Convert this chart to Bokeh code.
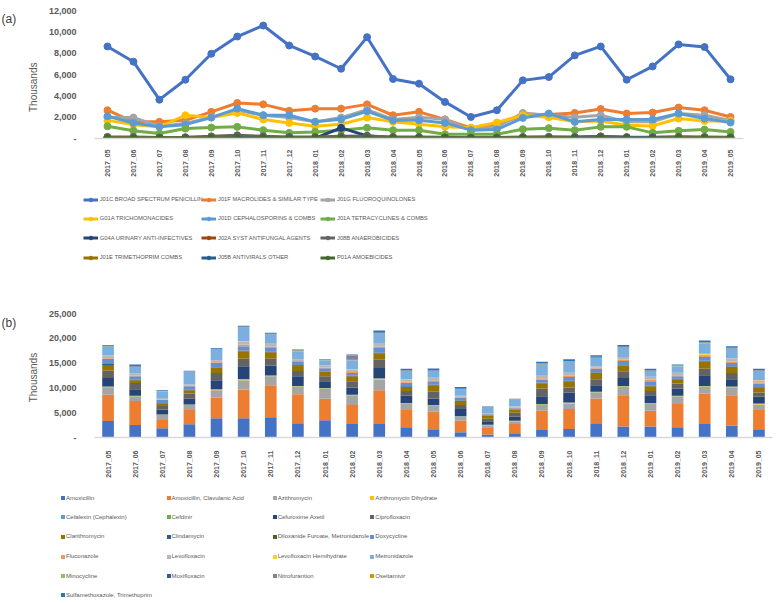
import math
from bokeh.plotting import figure
from bokeh.layouts import column, row
from bokeh.models import (FactorRange, Range1d, FixedTicker, NumeralTickFormatter,
                          Legend, LegendItem, Label, ColumnDataSource)
from bokeh.embed import file_html
from bokeh.resources import INLINE

months = ["2017_05", "2017_06", "2017_07", "2017_08", "2017_09", "2017_10", "2017_11",
          "2017_12", "2018_01", "2018_02", "2018_03", "2018_04", "2018_05", "2018_06",
          "2018_07", "2018_08", "2018_09", "2018_10", "2018_11", "2018_12", "2019_01",
          "2019_02", "2019_03", "2019_04", "2019_05"]

# ---------------- (a) line chart, thousands ----------------
top_names = ["J01C BROAD SPECTRUM PENICILLIN", "J01F MACROLIDES & SIMILAR TYPE",
             "J01G FLUOROQUINOLONES", "G01A TRICHOMONACIDES", "J01D CEPHALOSPORINS & COMBS",
             "J01A TETRACYCLINES & COMBS", "G04A URINARY ANTI-INFECTIVES",
             "J02A SYST ANTIFUNGAL AGENTS", "J08B ANAEROBICIDES", "J01E TRIMETHOPRIM COMBS",
             "J05B ANTIVIRALS OTHER", "P01A AMOEBICIDES"]
top_colors = ["#4472C4", "#ED7D31", "#A5A5A5", "#FFC000", "#5B9BD5", "#70AD47",
              "#264478", "#9E480E", "#636363", "#997300", "#255E91", "#43682B"]

J01C = [8630, 7200, 3640, 5510, 7940, 9560, 10590, 8720, 7690, 6540, 9500, 5580, 5140,
        3430, 2020, 2650, 5450, 5760, 7790, 8630, 5510, 6760, 8820, 8570, 5550]
J01F = [2650, 1560, 1560, 1700, 2500, 3330, 3200, 2600, 2800, 2800, 3200, 2180, 2500,
        1780, 1000, 1250, 2180, 2240, 2400, 2770, 2340, 2430, 2900, 2650, 2020]
J01G = [2000, 1960, 1150, 1400, 2000, 2650, 2180, 1960, 1560, 1960, 2700, 1780, 2000,
        1800, 780, 1100, 2400, 2180, 2000, 2180, 1560, 1560, 2340, 2180, 1700]
G01A = [1700, 1300, 1100, 2180, 1960, 2400, 1780, 1460, 1150, 1340, 1960, 1560, 1340,
        1100, 1000, 1500, 2180, 2000, 1560, 1650, 1250, 1180, 1870, 1650, 1650]
J01D = [2090, 1460, 1100, 1300, 1960, 2800, 2180, 2180, 1560, 1800, 2550, 1700, 1700,
        1460, 780, 840, 1930, 2340, 1560, 1780, 1780, 1780, 2340, 1870, 1500]
J01A = [1150, 720, 470, 930, 1030, 1090, 780, 530, 620, 780, 1000, 780, 780,
        400, 400, 400, 870, 970, 780, 1090, 1090, 530, 720, 840, 620]
G04A = [40, 30, 30, 30, 40, 40, 40, 30, 30, 1000, 250, 40, 40,
        30, 30, 30, 40, 40, 40, 40, 30, 30, 40, 40, 30]
J02A = [100, 80, 60, 70, 90, 120, 110, 90, 80, 150, 130, 90, 90,
        70, 50, 60, 90, 100, 110, 200, 90, 90, 110, 100, 80]
J08B = [150, 130, 100, 120, 200, 300, 200, 150, 130, 200, 230, 150, 140,
        110, 80, 100, 150, 160, 150, 180, 130, 120, 160, 150, 120]
J01E = [60, 50, 40, 50, 60, 70, 60, 50, 50, 60, 70, 50, 50,
        40, 30, 40, 50, 60, 60, 60, 50, 50, 60, 60, 50]
J05B = [30, 30, 20, 30, 30, 40, 40, 30, 30, 30, 40, 30, 30,
        20, 20, 20, 30, 30, 40, 50, 40, 40, 30, 30, 30]
P01A = [5, 5, 4, 5, 5, 6, 5, 5, 5, 5, 6, 5, 5,
        4, 3, 4, 5, 5, 5, 6, 5, 5, 5, 5, 5]
top_values = [J01C, J01F, J01G, G01A, J01D, J01A, G04A, J02A, J08B, J01E, J05B, P01A]
top_ticks = [0, 2000, 4000, 6000, 8000, 10000, 12000]

# ---------------- (b) stacked bars, thousands ----------------
bar_names = ["Amoxicillin", "Amoxicillin, Clavulanic Acid", "Azithromycin",
             "Azithromycin Dihydrate", "Cefalexin (Cephalexin)", "Cefdinir",
             "Cefuroxime Axetil", "Ciprofloxacin", "Clarithromycin", "Clindamycin",
             "Diloxanide Furoate, Metronidazole", "Doxycycline", "Fluconazole",
             "Levofloxacin", "Levofloxacin Hemihydrate", "Metronidazole", "Minocycline",
             "Moxifloxacin", "Nitrofurantion", "Oseltamivir",
             "Sulfamethoxazole, Trimethoprim"]
bar_colors = ["#4472C4", "#ED7D31", "#A5A5A5", "#FFC000", "#5B9BD5", "#70AD47",
              "#264478", "#636363", "#997300", "#255E91", "#43682B", "#698ED0",
              "#F1975A", "#B7B7B7", "#FFCD33", "#7CAFDD", "#8CC168", "#335AA1",
              "#848484", "#CC9A00", "#2E75B6"]

amoxicillin = [3330, 2530, 1870, 2670, 3870, 3870, 4070, 2870, 3470, 2740, 2740, 2070, 1670,
               1070, 600, 870, 1530, 1730, 2870, 2200, 2200, 2070, 2740, 2400, 1670]
amox_clav = [5270, 4810, 1660, 2870, 4130, 5800, 6470, 5870, 4330, 3800, 6800, 3470, 3530,
             2330, 1470, 1870, 3870, 4010, 5000, 6340, 3200, 4670, 6130, 6140, 3870]
azithromycin = [1400, 860, 1010, 1000, 1540, 1870, 1660, 1460, 2000, 1860, 2130, 1200, 1140,
                800, 400, 530, 1140, 1130, 1130, 1660, 1340, 1460, 1330, 1530, 1130]
azithro_dihydrate = [100, 80, 40, 50, 80, 90, 120, 80, 80, 80, 120, 80, 80,
                     40, 40, 40, 80, 80, 80, 80, 80, 80, 80, 80, 80]
cefalexin = [60, 40, 30, 30, 40, 50, 60, 40, 40, 40, 60, 40, 40,
             20, 20, 20, 40, 40, 40, 40, 40, 40, 40, 40, 40]
cefdinir = [110, 80, 40, 40, 80, 90, 150, 80, 80, 80, 120, 80, 80,
            40, 40, 40, 80, 80, 80, 80, 80, 80, 80, 80, 80]
cefuroxime = [1730, 1340, 1020, 1140, 1800, 2570, 2010, 1940, 1340, 1470, 2030, 1460, 1330,
              1440, 700, 830, 1600, 1930, 1340, 1600, 1600, 1470, 2140, 1470, 1330]
ciprofloxacin = [1470, 1260, 670, 1070, 1460, 1530, 1330, 1060, 1000, 1270, 1670, 1000, 1330,
                 800, 530, 800, 1530, 1070, 1200, 1340, 860, 1000, 1330, 1260, 870]
clarithromycin = [1130, 540, 530, 670, 1000, 1470, 1330, 1070, 860, 1000, 1330, 800, 1340,
                  860, 540, 540, 1000, 1270, 1260, 1060, 940, 870, 1470, 1200, 930]
clindamycin = [200, 150, 100, 120, 130, 170, 130, 130, 100, 130, 130, 130, 130,
               100, 80, 80, 130, 130, 130, 130, 130, 130, 130, 130, 130]
diloxanide = [20, 20, 10, 10, 20, 20, 20, 20, 20, 20, 20, 20, 20,
              10, 10, 10, 20, 20, 20, 20, 20, 20, 20, 20, 20]
doxycycline = [1000, 650, 570, 680, 870, 890, 670, 600, 640, 530, 870, 670, 670,
               570, 250, 250, 670, 730, 740, 870, 870, 470, 730, 670, 740]
fluconazole = [150, 150, 100, 100, 150, 300, 300, 200, 150, 200, 300, 200, 200,
               150, 60, 100, 250, 250, 200, 300, 300, 200, 200, 300, 250]
levofloxacin = [520, 380, 160, 230, 390, 640, 570, 340, 380, 540, 570, 540, 460,
                320, 140, 230, 480, 550, 270, 500, 560, 460, 270, 570, 420]
levo_hemihydrate = [30, 30, 20, 20, 30, 30, 30, 30, 30, 30, 30, 30, 30,
                    20, 20, 20, 30, 30, 30, 30, 30, 30, 200, 30, 30]
metronidazole = [1800, 1330, 1400, 2530, 2130, 2740, 1800, 1600, 1070, 1800, 2000, 1600, 1400,
                 1130, 1130, 1340, 2270, 2200, 1730, 1870, 1200, 1340, 2130, 2000, 1800]
minocycline = [30, 30, 20, 20, 30, 30, 30, 30, 30, 30, 30, 30, 30,
               20, 20, 20, 30, 30, 30, 30, 30, 30, 30, 30, 30]
moxifloxacin = [60, 60, 40, 40, 60, 60, 60, 60, 60, 60, 60, 60, 60,
                40, 40, 40, 60, 60, 60, 60, 60, 60, 60, 60, 60]
nitrofurantion = [60, 60, 40, 40, 60, 60, 60, 60, 60, 900, 60, 60, 60,
                  40, 40, 40, 60, 60, 60, 60, 60, 60, 60, 60, 60]
oseltamivir = [30, 30, 20, 20, 30, 30, 30, 30, 30, 30, 30, 30, 30,
               20, 20, 20, 30, 30, 30, 30, 30, 30, 30, 30, 30]
sulfa_trimeth = [150, 290, 160, 90, 150, 220, 220, 150, 80, 110, 490, 280, 290,
                 350, 80, 140, 350, 360, 290, 350, 220, 150, 360, 290, 280]
bar_values = [amoxicillin, amox_clav, azithromycin, azithro_dihydrate, cefalexin, cefdinir,
              cefuroxime, ciprofloxacin, clarithromycin, clindamycin, diloxanide, doxycycline,
              fluconazole, levofloxacin, levo_hemihydrate, metronidazole, minocycline,
              moxifloxacin, nitrofurantion, oseltamivir, sulfa_trimeth]
bar_ticks = [0, 5000, 10000, 15000, 20000, 25000]

TXT = "#595959"
SANS = "Liberation Sans"
STRIP_W = 45
MAIN_W = 730
FULL_W = STRIP_W + MAIN_W


def style(p, ticks, xstand):
    p.outline_line_color = None
    p.xgrid.grid_line_color = None
    p.ygrid.grid_line_color = None
    p.xaxis.axis_line_color = "#D9D9D9"
    p.xaxis.axis_line_width = 1.5
    p.xaxis.major_tick_line_color = None
    p.xaxis.minor_tick_line_color = None
    p.xaxis.major_label_orientation = math.pi / 2
    p.xaxis.major_label_text_font = SANS
    p.xaxis.major_label_text_font_style = "bold"
    p.xaxis.major_label_text_font_size = "7px"
    p.xaxis.major_label_text_color = TXT
    p.xaxis.major_label_standoff = xstand
    p.yaxis.axis_line_color = None
    p.yaxis.major_tick_line_color = None
    p.yaxis.minor_tick_line_color = None
    p.yaxis.ticker = FixedTicker(ticks=ticks)
    p.yaxis.formatter = NumeralTickFormatter(format="0,0")
    p.yaxis.major_label_overrides = {0: "-"}
    p.yaxis.major_label_text_font = SANS
    p.yaxis.major_label_text_font_style = "bold"
    p.yaxis.major_label_text_font_size = "9px"
    p.yaxis.major_label_text_color = TXT
    p.yaxis.major_label_standoff = 12


def blank(w, h):
    f = figure(width=w, height=h, x_range=Range1d(0, w), y_range=Range1d(0, h),
               x_axis_type=None, y_axis_type=None, output_backend="svg",
               toolbar_location=None, min_border_left=0, min_border_right=0,
               min_border_top=0, min_border_bottom=0)
    f.outline_line_color = None
    return f


def label(f, x, y, text, size, angle=0.0, align="center", baseline="middle", color=TXT):
    f.add_layout(Label(x=x, y=y, text=text, angle=angle, text_align=align,
                       text_baseline=baseline, text_font=SANS, text_font_size=size,
                       text_color=color))


def legend_entry(f, fig_h, renderers, text, x, yc, gw, gh, standoff, size):
    vy = fig_h - (yc + gh / 2)
    f.add_layout(Legend(items=[LegendItem(label=text, renderers=renderers)],
                        location=(x, vy), orientation="vertical", padding=0, margin=0,
                        spacing=0, glyph_width=gw, glyph_height=gh, label_height=gh,
                        label_width=1, label_standoff=standoff, border_line_color=None,
                        background_fill_alpha=0, label_text_font=SANS,
                        label_text_font_size=size, label_text_color=TXT))


# ---------- top chart ----------
H1 = 180
top = figure(x_range=FactorRange(*months), y_range=Range1d(0, 12000),
             width=MAIN_W, height=H1, output_backend="svg", toolbar_location=None,
             min_border_left=42, min_border_right=32, min_border_top=10,
             min_border_bottom=42)
style(top, top_ticks, 5)
for name, col, vals in zip(top_names, top_colors, top_values):
    top.line(months, vals, line_color=col, line_width=3)
    top.scatter(months, vals, size=7, fill_color=col, line_color=col)

stripA = blank(STRIP_W, H1)
label(stripA, 1, H1 - 2, "(a)", "12px", align="left", baseline="top", color="#404040")
label(stripA, 33, H1 - 108, "Thousands", "10px", angle=math.pi / 2)

# ---------- top legend ----------
HLA = 120
legA = blank(FULL_W, HLA)
top_leg_x = [82.7, 201, 320]
top_leg_y = [19, 38.3, 57.7, 77.3]
for i, (name, col) in enumerate(zip(top_names, top_colors)):
    rl = legA.line(x=[-60, -40], y=[-60, -60], line_color=col, line_width=3)
    rs = legA.scatter(x=[-50], y=[-60], size=7, fill_color=col, line_color=col)
    legend_entry(legA, HLA, [rl, rs], name, top_leg_x[i % 3], top_leg_y[i // 3],
                 15, 9, 2, "5.8px")

# ---------- bottom chart ----------
H2 = 180
src = ColumnDataSource(data={"month": months, **{n: v for n, v in zip(bar_names, bar_values)}})
bot = figure(x_range=FactorRange(*months), y_range=Range1d(0, 25000),
             width=MAIN_W, height=H2, output_backend="svg", toolbar_location=None,
             min_border_left=46, min_border_right=3, min_border_top=13,
             min_border_bottom=42)
style(bot, bar_ticks, 7)
bot.vbar_stack(bar_names, x="month", width=0.43, fill_color=bar_colors,
               line_color=None, source=src)

stripB = blank(STRIP_W, H2)
label(stripB, 1, H2 - 3, "(b)", "12px", align="left", baseline="top", color="#404040")
label(stripB, 33, H2 - 93, "Thousands", "10px", angle=math.pi / 2)

# ---------- bottom legend ----------
HLB = 123
legB = blank(FULL_W, HLB)
bot_leg_x = [60, 165.5, 271.7, 369.3]
bot_leg_y = [18.3, 37.3, 56.7, 76.7, 96, 115.3]
for i, (name, col) in enumerate(zip(bar_names, bar_colors)):
    r = legB.vbar(x=[-50], top=[-40], bottom=[-60], width=5, fill_color=col,
                  line_color=None)
    legend_entry(legB, HLB, [r], name, bot_leg_x[i % 4], bot_leg_y[i // 4],
                 5, 5, 1, "6px")

layout = column(row(stripA, top, spacing=0), legA, row(stripB, bot, spacing=0), legB,
                spacing=0)
open("out.html", "w").write(file_html(layout, INLINE))
